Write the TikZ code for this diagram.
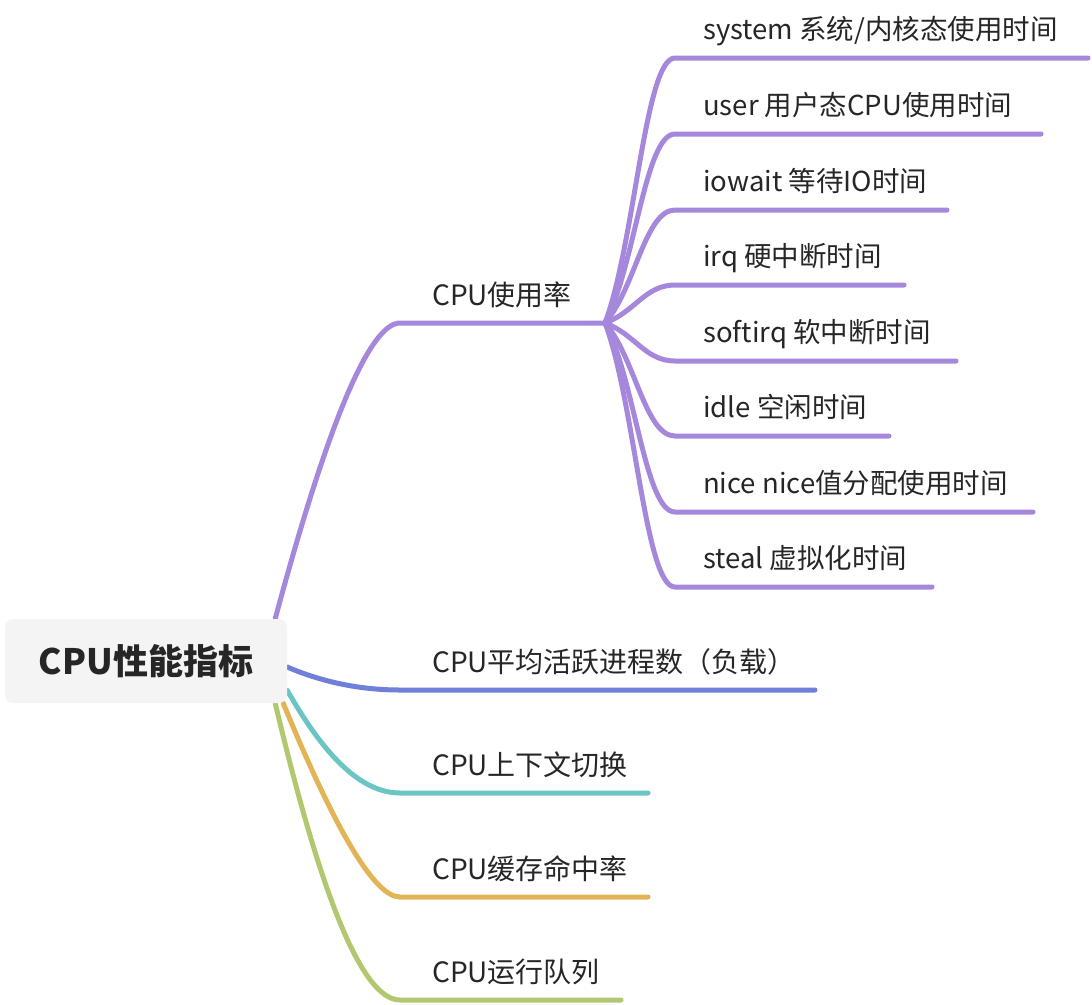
\documentclass[tikz,border=0pt]{standalone}
\usepackage{fontspec}
\setmainfont{Noto Sans CJK SC}
\usetikzlibrary{positioning,backgrounds}

\definecolor{txt}{HTML}{262626}
\definecolor{rootbg}{HTML}{F4F4F4}
\definecolor{purp}{HTML}{A587DC}
\definecolor{blu}{HTML}{6F7FDA}
\definecolor{tealc}{HTML}{6CC5C2}
\definecolor{orng}{HTML}{E2B455}
\definecolor{grn}{HTML}{B2C870}

\begin{document}
\begin{tikzpicture}[x=1pt,y=-1pt,
	branch/.style={line width=5pt,line cap=round},
	maintext/.style={inner sep=0pt,text depth=0pt,text=txt,font=\fontsize{28}{32}\selectfont},
	leaftext/.style={inner sep=0pt,text depth=0pt,text=txt,font=\fontsize{27.5}{32}\selectfont}]
		\useasboundingbox (0,0) rectangle (1092,1004);

		\node (root) at (146,661) [fill=rootbg,rounded corners=8pt,minimum width=282pt,minimum height=84pt,text=txt,font=\fontsize{35}{40}\selectfont\bfseries] {CPU性能指标};

		\coordinate (usageL) at (400,323);
		\coordinate (J) at (605,323);
		\coordinate (loadL) at (400,690);
		\coordinate (loadR) at (815,690);
		\coordinate (ctxL) at (400,793);
		\coordinate (ctxR) at (648,793);
		\coordinate (cacheL) at (400,897);
		\coordinate (cacheR) at (648,897);
		\coordinate (queueL) at (400,1000);
		\coordinate (queueR) at (621,1000);

		\node (usage) [maintext,above right=17pt and 32pt of usageL] {CPU使用率};
		\node (load) [maintext,above right=17pt and 32pt of loadL] {CPU平均活跃进程数（负载）};
		\node (ctx) [maintext,above right=17pt and 32pt of ctxL] {CPU上下文切换};
		\node (cache) [maintext,above right=17pt and 32pt of cacheL] {CPU缓存命中率};
		\node (queue) [maintext,above right=17pt and 32pt of queueL] {CPU运行队列};

		\coordinate (sysL) at (675,58);
		\coordinate (sysR) at (1088,58);
		\coordinate (userL) at (675,134);
		\coordinate (userR) at (1041,134);
		\coordinate (iowL) at (675,210);
		\coordinate (iowR) at (947,210);
		\coordinate (irqL) at (675,285);
		\coordinate (irqR) at (904,285);
		\coordinate (sirqL) at (675,361);
		\coordinate (sirqR) at (956,361);
		\coordinate (idleL) at (675,436);
		\coordinate (idleR) at (889,436);
		\coordinate (niceL) at (675,512);
		\coordinate (niceR) at (1033,512);
		\coordinate (stealL) at (675,587);
		\coordinate (stealR) at (932,587);

		\node (sys) [leaftext,above right=18pt and 28pt of sysL] {system 系统/内核态使用时间};
		\node (user) [leaftext,above right=18pt and 28pt of userL] {user 用户态CPU使用时间};
		\node (iow) [leaftext,above right=18pt and 28pt of iowL] {iowait 等待IO时间};
		\node (irq) [leaftext,above right=18pt and 28pt of irqL] {irq 硬中断时间};
		\node (sirq) [leaftext,above right=18pt and 28pt of sirqL] {softirq 软中断时间};
		\node (idle) [leaftext,above right=18pt and 28pt of idleL] {idle 空闲时间};
		\node (nice) [leaftext,above right=18pt and 28pt of niceL] {nice nice值分配使用时间};
		\node (steal) [leaftext,above right=18pt and 28pt of stealL] {steal 虚拟化时间};

		\begin{scope}[on background layer]
		\draw [branch,purp] ([xshift=-12pt]root.north east) .. controls +(53,-197) and +(-30,0) .. (usageL) -- (J);
		\draw [branch,blu] ([yshift=-6pt]root.east) .. controls +(35,15) and +(-40,0) .. (loadL) -- (loadR);
		\draw [branch,tealc] ([yshift=13pt]root.south east) .. controls +(39,69) and +(-37,0) .. (ctxL) -- (ctxR);
		\draw [branch,orng] ([xshift=-4pt]root.south east) .. controls +(53,129) and +(-25,0) .. (cacheL) -- (cacheR);
		\draw [branch,grn] ([xshift=-12pt]root.south east) .. controls +(47,198) and +(-37,0) .. (queueL) -- (queueR);

		\draw [branch,purp] (J) .. controls +(30,-80) and +(-30,0) .. (sysL) -- (sysR);
		\draw [branch,purp] (J) .. controls +(30,-57) and +(-30,0) .. (userL) -- (userR);
		\draw [branch,purp] (J) .. controls +(30,-34) and +(-30,0) .. (iowL) -- (iowR);
		\draw [branch,purp] (J) .. controls +(30,-11) and +(-30,0) .. (irqL) -- (irqR);
		\draw [branch,purp] (J) .. controls +(30,11) and +(-30,0) .. (sirqL) -- (sirqR);
		\draw [branch,purp] (J) .. controls +(30,34) and +(-30,0) .. (idleL) -- (idleR);
		\draw [branch,purp] (J) .. controls +(30,57) and +(-30,0) .. (niceL) -- (niceR);
		\draw [branch,purp] (J) .. controls +(30,79) and +(-30,0) .. (stealL) -- (stealR);
		\end{scope}

		%\draw [branch,purp] (usageL) -- (J);
	\end{tikzpicture}
\end{document}
